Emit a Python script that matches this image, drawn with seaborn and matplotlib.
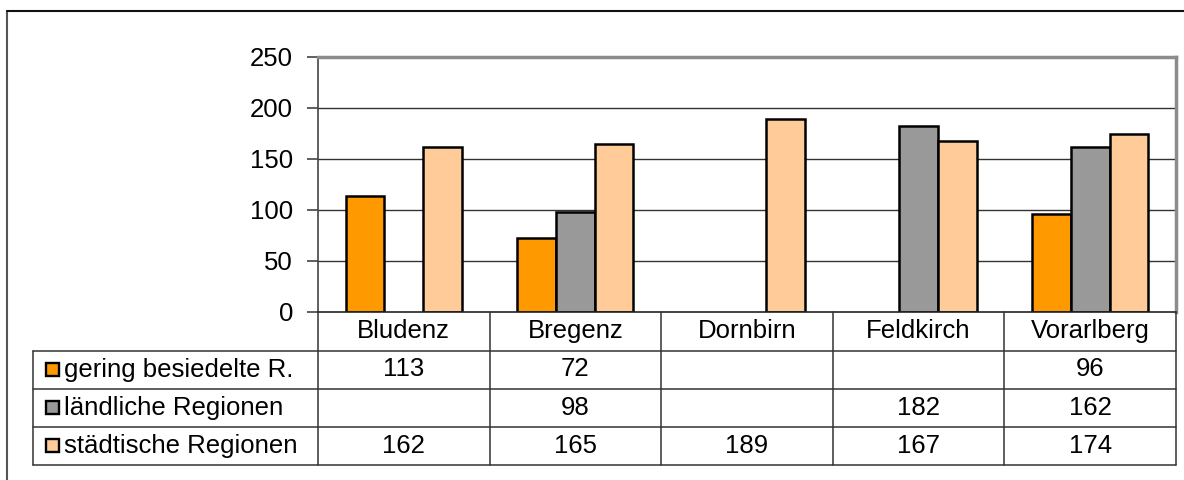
import numpy as np
import pandas as pd
import seaborn as sns
import matplotlib
matplotlib.use("Agg")
import matplotlib.pyplot as plt
from matplotlib.transforms import blended_transform_factory
from matplotlib.patches import Rectangle
from matplotlib.lines import Line2D

# ---- data ----
categories = ["Bludenz", "Bregenz", "Dornbirn", "Feldkirch", "Vorarlberg"]
series_names = ["gering besiedelte R.", "ländliche Regionen", "städtische Regionen"]
gering = [113, 72, np.nan, np.nan, 96]
laendlich = [np.nan, 98, np.nan, 182, 162]
staedtisch = [162, 165, 189, 167, 174]
colors = ["#FF9900", "#999999", "#FFCC99"]
yticks = [0, 50, 100, 150, 200, 250]

series_values = [gering, laendlich, staedtisch]
rows = []
for name, vals in zip(series_names, series_values):
    for cat, v in zip(categories, vals):
        rows.append({"Region": cat, "Serie": name, "Wert": v})
df = pd.DataFrame(rows)

sns.set_theme(style="white")
plt.rcParams["font.family"] = ["Liberation Sans", "DejaVu Sans"]
plt.rcParams["ytick.left"] = True
plt.rcParams["ytick.major.size"] = 8
plt.rcParams["ytick.major.width"] = 1.1
plt.rcParams["ytick.color"] = "#333333"
FS = 18.5

W, H = 1184, 480
fig = plt.figure(figsize=(W / 100, H / 100), dpi=100)
fig.patch.set_facecolor("white")

def fx(px):
    return px / W

def fy(py):
    return 1 - py / H

ax_left, ax_right, ax_top, ax_bottom = 318, 1176, 57, 311.5
ax = fig.add_axes([fx(ax_left), fy(ax_bottom), fx(ax_right - ax_left), (ax_bottom - ax_top) / H])

sns.barplot(data=df.dropna(), x="Region", y="Wert", hue="Serie",
            order=categories, hue_order=series_names, palette=colors,
            width=0.675, edgecolor="black", linewidth=1.8, saturation=1,
            errorbar=None, legend=False, ax=ax, zorder=3)

ax.set_xlim(-0.5, len(categories) - 0.5)
ax.set_ylim(0, 250)
ax.set_yticks(yticks)
ax.set_yticklabels([str(t) for t in yticks], fontsize=FS, color="black")
ax.set_xticks([])
ax.set_xlabel("")
ax.set_ylabel("")
ax.tick_params(axis="y", which="major", direction="out", length=8, width=1.1,
               color="#333333", labelcolor="black", pad=10, left=True)
for t in yticks[1:-1]:
    ax.axhline(t, color="#333333", lw=1, zorder=1)
ax.spines["left"].set_color("#444444")
ax.spines["left"].set_linewidth(1.2)
ax.spines["bottom"].set_color("#222222")
ax.spines["bottom"].set_linewidth(1.2)
ax.spines["top"].set_color("#8c8c8c")
ax.spines["top"].set_linewidth(2.5)
ax.spines["right"].set_color("#8c8c8c")
ax.spines["right"].set_linewidth(2.5)
for s in ax.spines.values():
    s.set_zorder(4)

# ---- data table below ----
tr = blended_transform_factory(ax.transData, fig.transFigure)
line_color = "#333333"
row_lines = [311.5, 350.5, 388.5, 426.7, 465]
table_left = 33

for yl in row_lines[1:]:
    fig.add_artist(Line2D([fx(table_left), fx(ax_right)], [fy(yl), fy(yl)],
                          color=line_color, lw=1.1))
for k in range(len(categories) + 1):
    xb = k - 0.5
    fig.add_artist(Line2D([xb, xb], [fy(row_lines[0]), fy(row_lines[-1])],
                          color=line_color, lw=1.1, transform=tr))
fig.add_artist(Line2D([fx(table_left), fx(table_left)], [fy(row_lines[1]), fy(row_lines[-1])],
                      color=line_color, lw=1.1))

for i, cat in enumerate(categories):
    fig.text(i, fy((row_lines[0] + row_lines[1]) / 2), cat, transform=tr,
             ha="center", va="center", fontsize=FS, color="black")

for r, (name, vals, col) in enumerate(zip(series_names, series_values, colors)):
    yc = (row_lines[r + 1] + row_lines[r + 2]) / 2
    fig.add_artist(Rectangle((fx(46), fy(yc + 6.5)), fx(13), 13 / H,
                             facecolor=col, edgecolor="black", lw=1.7))
    fig.text(fx(64), fy(yc), name, ha="left", va="center", fontsize=FS, color="black")
    for i, v in enumerate(vals):
        if not np.isnan(v):
            fig.text(i, fy(yc), f"{int(v)}", transform=tr,
                     ha="center", va="center", fontsize=FS, color="black")

# outer chart frame (extends beyond the image on right / bottom)
fig.add_artist(Line2D([fx(7), fx(7)], [fy(11), fy(490)], color="#555555", lw=1.5))
fig.add_artist(Line2D([fx(7), fx(1200)], [fy(11), fy(11)], color="#111111", lw=1.5))

fig.savefig("out.png", dpi=100, facecolor="white")
